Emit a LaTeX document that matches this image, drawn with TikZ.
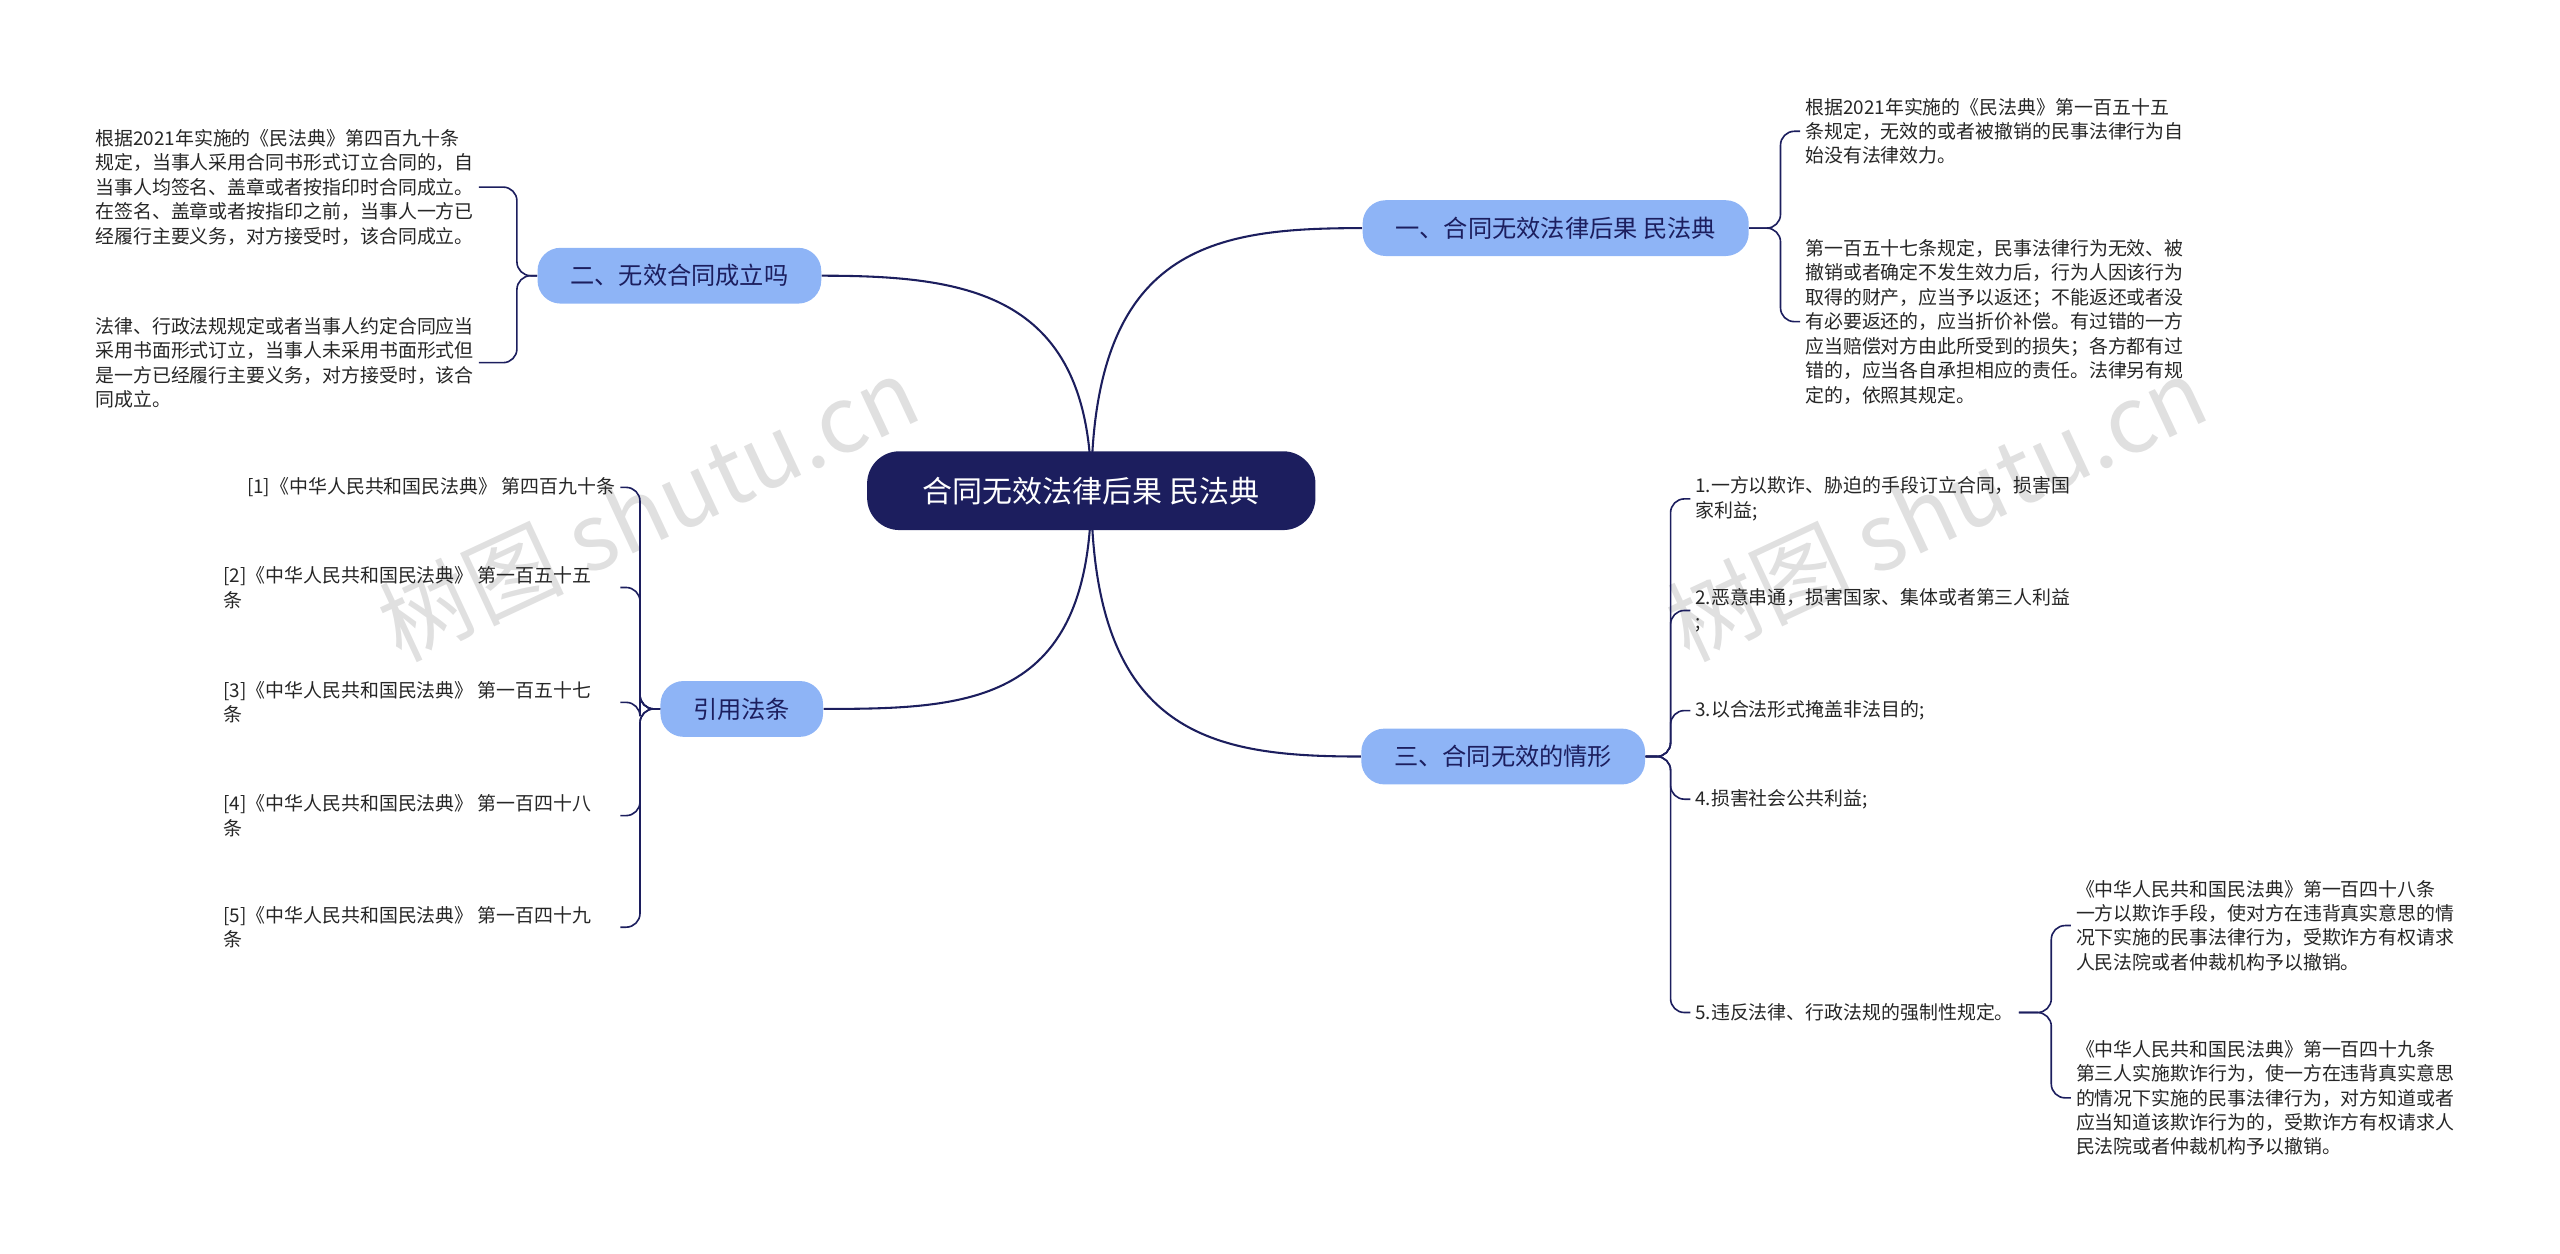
\documentclass[tikz,border=0pt]{standalone}
\usepackage{fontspec}
\setmainfont{Noto Sans CJK SC}
\usetikzlibrary{backgrounds}
\definecolor{navy}{HTML}{1C1E5E}
\definecolor{branchblue}{HTML}{8EB4F6}
\tikzset{root topic/.style={fill=navy, text=white, rounded corners=14pt, minimum height=1.2cm, inner xsep=0.85cm, font=\fontsize{13}{15}\selectfont}}
\tikzset{main topic/.style={fill=branchblue, text=navy, rounded corners=10pt, minimum height=0.85cm, inner xsep=0.5cm, font=\fontsize{10.5}{12}\selectfont}}
\tikzset{leaf text/.style={align=left, inner sep=2pt, text=black!85, font=\fontsize{8.2}{10.6}\selectfont}}
\tikzset{link/.style={draw=navy, line width=0.9pt}}
\tikzset{leaf link/.style={draw=navy, line width=0.7pt, rounded corners=6pt}}

\begin{document}
\begin{tikzpicture}[x=0.025cm, y=-0.025cm]
\useasboundingbox (0,0) rectangle (1560,764);
% watermarks
\node[rotate=25, text=black!12, font=\fontsize{40}{40}\selectfont] (wmleft) at (395,310) {树图 shutu.cn};
\node[rotate=25, text=black!12, font=\fontsize{40}{40}\selectfont] (wmright) at (1180,310) {树图 shutu.cn};

\node[root topic] (root) at (665,299) {合同无效法律后果 民法典};
\node[main topic] (effect) at (948,139) {一、合同无效法律后果 民法典};
\node[main topic] (formed) at (414,168) {二、无效合同成立吗};
\node[main topic] (cites) at (452,432) {引用法条};
\node[main topic] (cases) at (916,461) {三、合同无效的情形};

\begin{scope}[on background layer]
\draw[link] (root.center) .. controls +(0,-150) and +(-90,0) .. (effect.west);
\draw[link] (root.center) .. controls +(0,-120) and +(90,0) .. (formed.east);
\draw[link] (root.center) .. controls +(0,130) and +(90,0) .. (cites.east);
\draw[link] (root.center) .. controls +(0,150) and +(-90,0) .. (cases.west);
\end{scope}

% branch one
\node[leaf text, anchor=west] (effect1) at (1097,80) {根据2021年实施的《民法典》第一百五十五\\条规定，无效的或者被撤销的民事法律行为自\\始没有法律效力。};
\node[leaf text, anchor=west] (effect2) at (1097,196) {第一百五十七条规定，民事法律行为无效、被\\撤销或者确定不发生效力后，行为人因该行为\\取得的财产，应当予以返还；不能返还或者没\\有必要返还的，应当折价补偿。有过错的一方\\应当赔偿对方由此所受到的损失；各方都有过\\错的，应当各自承担相应的责任。法律另有规\\定的，依照其规定。};
\foreach \leaf in {effect1,effect2}
  \draw[leaf link] (effect.east) -| (1085,0 |- \leaf.west) -- (\leaf.west);

% branch two
\node[leaf text, anchor=west] (formed1) at (55,114) {根据2021年实施的《民法典》第四百九十条\\规定，当事人采用合同书形式订立合同的，自\\当事人均签名、盖章或者按指印时合同成立。\\在签名、盖章或者按指印之前，当事人一方已\\经履行主要义务，对方接受时，该合同成立。};
\node[leaf text, anchor=west] (formed2) at (55,221) {法律、行政法规规定或者当事人约定合同应当\\采用书面形式订立，当事人未采用书面形式但\\是一方已经履行主要义务，对方接受时，该合\\同成立。};
\foreach \leaf in {formed1,formed2}
  \draw[leaf link] (formed.west) -| (315,0 |- \leaf.east) -- (\leaf.east);

% citations
\node[leaf text, anchor=east] (cite1) at (378,297) {[1]《中华人民共和国民法典》 第四百九十条};
\node[leaf text, anchor=west] (cite2) at (133,358) {[2]《中华人民共和国民法典》 第一百五十五\\条};
\node[leaf text, anchor=west] (cite3) at (133,428) {[3]《中华人民共和国民法典》 第一百五十七\\条};
\node[leaf text, anchor=west] (cite4) at (133,497) {[4]《中华人民共和国民法典》 第一百四十八\\条};
\node[leaf text, anchor=west] (cite5) at (133,565) {[5]《中华人民共和国民法典》 第一百四十九\\条};
\foreach \leaf in {cite1,cite2,cite3,cite4,cite5}
  \draw[leaf link] (cites.west) -| (390,0 |- \leaf.east) -- (378,0 |- \leaf.east);

% branch three
\node[leaf text, anchor=west] (case1) at (1030,304) {1.一方以欺诈、胁迫的手段订立合同，损害国\\家利益;};
\node[leaf text, anchor=west] (case2) at (1030,372) {2.恶意串通，损害国家、集体或者第三人利益\\;};
\node[leaf text, anchor=west] (case3) at (1030,433) {3.以合法形式掩盖非法目的;};
\node[leaf text, anchor=west] (case4) at (1030,487) {4.损害社会公共利益;};
\node[leaf text, anchor=west] (case5) at (1030,617) {5.违反法律、行政法规的强制性规定。};
\foreach \leaf in {case1,case2,case3,case4,case5}
  \draw[leaf link] (cases.east) -| (1018,0 |- \leaf.west) -- (\leaf.west);

\node[leaf text, anchor=west] (fraud1) at (1262,564) {《中华人民共和国民法典》第一百四十八条\\一方以欺诈手段，使对方在违背真实意思的情\\况下实施的民事法律行为，受欺诈方有权请求\\人民法院或者仲裁机构予以撤销。};
\node[leaf text, anchor=west] (fraud2) at (1262,669) {《中华人民共和国民法典》第一百四十九条\\第三人实施欺诈行为，使一方在违背真实意思\\的情况下实施的民事法律行为，对方知道或者\\应当知道该欺诈行为的，受欺诈方有权请求人\\民法院或者仲裁机构予以撤销。};
\foreach \leaf in {fraud1,fraud2}
  \draw[leaf link] (case5.east) -| (1250,0 |- \leaf.west) -- (\leaf.west);
\end{tikzpicture}
\end{document}
